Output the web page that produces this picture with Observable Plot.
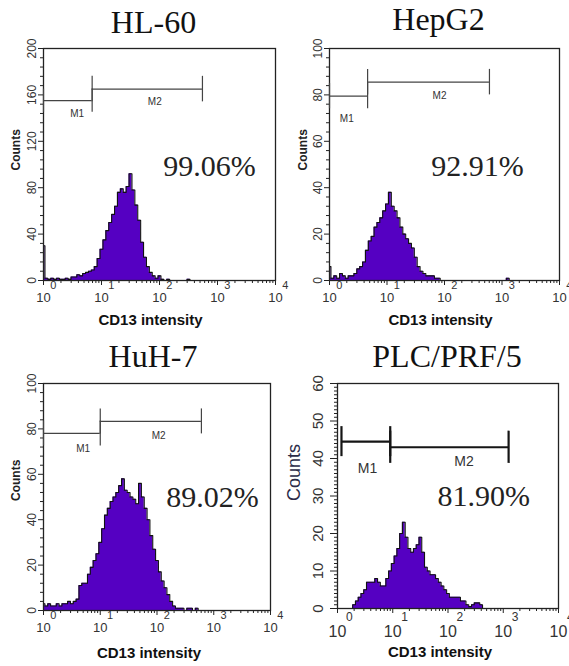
<!DOCTYPE html>
<html><head><meta charset="utf-8">
<script src="https://cdn.jsdelivr.net/npm/d3@7"></script>
<script src="https://cdn.jsdelivr.net/npm/@observablehq/plot@0.6"></script>
<style>
body{margin:0;background:#fff;}
#root{position:relative;width:569px;height:666px;overflow:hidden;background:#fff;}
.panel{position:absolute;}
</style></head><body><div id="root"></div>
<script>
// Channel positions (log10 of CD13 intensity)
const channelLog = [
 0.00,0.05,0.10,0.15,0.20,0.25,0.30,0.35,0.40,0.45,
 0.50,0.55,0.60,0.65,0.70,0.75,0.80,0.85,0.90,0.95,
 1.00,1.05,1.10,1.15,1.20,1.25,1.30,1.35,1.40,1.45,
 1.50,1.55,1.60,1.65,1.70,1.75,1.80,1.85,1.90,1.95,
 2.00,2.05,2.10,2.15,2.20,2.25,2.30,2.35,2.40,2.45,
 2.50,2.55,2.60,2.65,2.70,2.75,2.80,2.85,2.90,2.95,
 3.00,3.05,3.10,3.15,3.20,3.25,3.30,3.35,3.40,3.45,
 3.50,3.55,3.60,3.65,3.70,3.75,3.80,3.85,3.90,3.95,
 4.00];

const hl60Counts = [
 30,2,1,2,1,2,1,1,2,1,
 3,3,5,4,6,7,8,9,12,19,
 27,35,43,50,57,64,76,79,76,81,
 92,78,65,52,33,20,12,7,4,2,
 4,1,0,1,0,0,0,0,0,0,
 1,0,0,0,0,0,0,0,0,0,
 0,0,0,0,0,0,0,0,0,0,
 0,0,0,0,0,0,0,0,0,0,
 0];
const hepg2Counts = [
 6,1,2,1,3,2,1,2,2,3,
 5,6,8,13,17,19,23,25,27,30,
 33,38,32,30,27,23,20,18,16,14,
 10,6,4,3,2,2,2,1,1,0,
 0,0,0,0,0,0,0,0,0,0,
 0,0,0,0,0,0,0,0,0,0,
 0,0,1,0,0,0,0,0,0,0,
 0,0,0,0,0,0,0,0,0,0,
 0];
const huh7Counts = [
 3,2,3,2,2,3,2,3,3,4,
 3,4,5,11,12,12,16,19,22,25,
 30,36,42,45,48,50,52,55,58,53,
 52,50,49,47,56,50,45,40,33,27,
 22,17,13,10,7,4,2,1,1,1,
 0,1,1,0,1,0,0,0,0,0,
 0,0,0,0,0,0,0,0,0,0,
 0,0,0,0,0,0,0,0,0,0,
 0];
const plcCounts = [
 0,0,0,0,0,0,1,2,3,4,
 5,7,7,7,8,7,6,6,8,10,
 12,14,16,20,23,19,16,15,16,17,
 19,15,11,10,9,9,8,7,6,5,
 4,3,3,3,3,2,2,1,0.5,1,
 1.5,1.5,1,0,0,0,0,0,0,0,
 0,0,0,0,0,0,0,0,0,0,
 0,0,0,0,0,0,0,0,0,0,
 0];

// Axis ticks
const xMajorTicks = [1, 10, 100, 1000, 10000];
const xTickExponents = ["0", "1", "2", "3", "4"];
const xMinorTicks = [2,3,4,5,6,7,8,9,20,30,40,50,60,70,80,90,200,300,400,500,600,700,800,900,2000,3000,4000,5000,6000,7000,8000,9000];
const hl60YTicks = [0, 40, 80, 120, 160, 200];
const hepg2YTicks = [0, 20, 40, 60, 80, 100];
const huh7YTicks = [0, 20, 40, 60, 80, 100];
const plcYTicks = [0, 10, 20, 30, 40, 50, 60];

// Gate markers M1 / M2
const hl60Markers = [
 {label:"M1", x1:1, x2:6.9, y:155, h:10, lx:3.8, ly:144},
 {label:"M2", x1:6.9, x2:550, y:165, h:11, lx:83, ly:154}];
const hepg2Markers = [
 {label:"M1", x1:1, x2:4.6, y:79.5, h:5.5, lx:2.0, ly:69.8},
 {label:"M2", x1:4.6, x2:605, y:85.5, h:5.5, lx:82, ly:79.7}];
const huh7Markers = [
 {label:"M1", x1:1, x2:10, y:78, h:5.5, lx:5, ly:71.4},
 {label:"M2", x1:10, x2:606, y:83.3, h:5.5, lx:107, ly:77}];
const plcMarkers = [
 {label:"M1", x1:1.18, x2:9.0, y:44.5, h:4, lx:3.5, ly:37.3},
 {label:"M2", x1:9.0, x2:1250, y:43, h:4.3, lx:195, ly:39.2}];

const titles = ["HL-60", "HepG2", "HuH-7", "PLC/PRF/5"];
const percents = ["99.06%", "92.91%", "89.02%", "81.90%"];

const purple = "#5500c2";

const panels = [
 {title:titles[0], counts:hl60Counts, yTicks:hl60YTicks, minorStep:8, yMax:200, markers:hl60Markers,
  pct:percents[0], pctX:730, pctY:98, left:0, top:0, mL:43, mR:10, mT:48, mB:53,
  tDx:-6, tDy:-16, xlDx:-9, xlDy:44, cDx:-27, cDy:6, big:false},
 {title:titles[1], counts:hepg2Counts, yTicks:hepg2YTicks, minorStep:4, yMax:100, markers:hepg2Markers,
  pct:percents[1], pctX:375, pctY:49, left:284, top:0, mL:45, mR:10, mT:48, mB:53,
  tDx:-6, tDy:-19, xlDx:-4, xlDy:44, cDx:-26, cDy:6, big:false},
 {title:titles[2], counts:huh7Counts, yTicks:huh7YTicks, minorStep:4, yMax:100, markers:huh7Markers,
  pct:percents[2], pctX:950, pctY:50, left:0, top:333, mL:43, mR:15, mT:50, mB:56,
  tDx:-4, tDy:-17, xlDx:-8, xlDy:47, cDx:-27, cDy:4, big:false},
 {title:titles[3], counts:plcCounts, yTicks:plcYTicks, minorStep:1, yMax:60, markers:plcMarkers,
  pct:percents[3], pctX:445, pctY:30, left:284, top:333, mL:53, mR:11, mT:50, mB:58,
  tDx:-1, tDy:-17, xlDx:-8, xlDy:48, cDx:-43, cDy:5, big:true}
];

const root = document.getElementById("root");
for (const p of panels) {
  const hist = channelLog.map((L, i) => ({x: Math.pow(10, L), y: p.counts[i]}));
  const yMinor = d3.range(0, p.yMax + 0.001, p.minorStep).filter(v => !p.yTicks.includes(v));
  const mColor = p.big ? "#151515" : "#444";
  const mWidth = p.big ? 2.2 : 1.2;
  const ends = p.markers.flatMap(m => [
    {x: m.x1, y1: m.y - m.h, y2: m.y + m.h},
    {x: m.x2, y1: m.y - m.h, y2: m.y + m.h}]);
  const supData = xMajorTicks.map((t, i) => ({t, e: xTickExponents[i]}));
  const svg = Plot.plot({
    width: 285, height: 333,
    marginLeft: p.mL, marginRight: p.mR, marginTop: p.mT, marginBottom: p.mB,
    style: {fontFamily: "Liberation Sans, Arial, sans-serif", background: "transparent", overflow: "visible", color: "#222"},
    x: {type: "log", domain: [1, 10000]},
    y: {domain: [0, p.yMax]},
    marks: [
      Plot.areaY(hist, {x: "x", y: "y", curve: "step", fill: purple}),
      Plot.lineY(hist, {x: "x", y: "y", curve: "step", stroke: "#111", strokeWidth: 1.1}),
      Plot.frame({stroke: "#222", strokeWidth: 1.3}),
      Plot.axisX(xMajorTicks, {anchor: "bottom", tickSize: 5, tickPadding: p.big ? 12 : 7, tickFormat: () => "10",
        fontSize: p.big ? 16 : 13, fill: "#333", label: null}),
      Plot.text(supData, {x: "t", text: "e", frameAnchor: "bottom", textAnchor: "start",
        dx: p.big ? 8.5 : 6.8, dy: p.big ? 12.5 : 8.5, fontSize: p.big ? 12 : 11, fill: "#333"}),
      Plot.axisX(xMinorTicks, {anchor: "bottom", tickSize: 3, tickFormat: () => "", label: null}),
      Plot.axisY(p.yTicks, {anchor: "left", tickSize: p.big ? 7 : 5, tickPadding: p.big ? 8 : 3, tickRotate: -90,
        fontSize: p.big ? 15 : 12, fill: "#333", label: null}),
      Plot.axisY(yMinor, {anchor: "left", tickSize: 3, tickFormat: () => "", label: null}),
      Plot.ruleY(p.markers, {y: "y", x1: "x1", x2: "x2", stroke: mColor, strokeWidth: mWidth}),
      Plot.ruleX(ends, {x: "x", y1: "y1", y2: "y2", stroke: mColor, strokeWidth: mWidth}),
      Plot.text(p.markers, {x: "lx", y: "ly", text: "label", fontSize: p.big ? 14 : 10,
        fill: "#333", style: p.big ? "letter-spacing:2px" : null}),
      Plot.text([p.pct], {x: () => p.pctX, y: () => p.pctY, text: d => d,
        fontFamily: "Liberation Serif, Times New Roman, serif", fontSize: 30, fill: "#222"}),
      Plot.text([p.title], {frameAnchor: "top", dx: p.tDx, dy: p.tDy, lineAnchor: "bottom", text: d => d,
        fontFamily: "Liberation Serif, Times New Roman, serif", fontSize: 32, fill: "#111"}),
      Plot.text(["CD13 intensity"], {frameAnchor: "bottom", dx: p.xlDx, dy: p.xlDy, lineAnchor: "bottom", text: d => d,
        fontWeight: "bold", fontSize: 15, fill: "#111"}),
      Plot.text(["Counts"], {frameAnchor: "left", dx: p.cDx, dy: p.cDy, rotate: -90, text: d => d,
        fontWeight: p.big ? "normal" : "bold", fontSize: p.big ? 18 : 12, fill: p.big ? "#2b2b48" : "#222"})
    ]
  });
  svg.classList.add("panel");
  svg.style.left = p.left + "px";
  svg.style.top = p.top + "px";
  root.appendChild(svg);
}
</script>
</body></html>
